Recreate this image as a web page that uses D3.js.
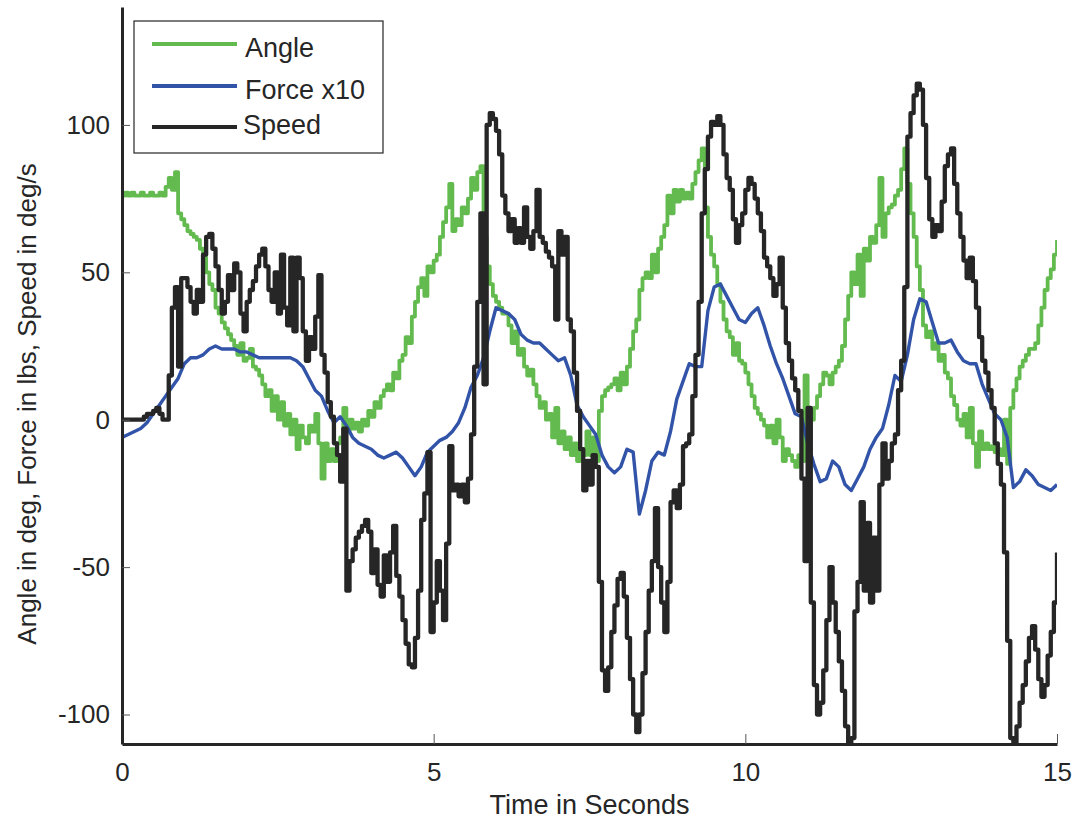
<!DOCTYPE html>
<html>
<head>
<meta charset="utf-8">
<script src="https://cdn.jsdelivr.net/npm/d3@7"></script>
<style>
  body { margin: 0; background: #fff; }
  svg { display: block; font-family: "Liberation Sans", Arial, Helvetica, sans-serif; }
</style>
</head>
<body>
<div id="chart"></div>
<script>
// sampling steps (seconds) of each recorded series
const angleStep = 0.05;
const speedStep = 0.05;
const forceStep = 0.1;

// Angle in deg (one row = 1 s)
const angle = [
  76, 77, 76, 77, 76, 76, 77, 76, 76, 77, 76, 76, 77, 76, 79, 82, 78, 84, 70, 68,
  66, 64, 63, 62, 61, 58, 55, 50, 46, 44, 38, 36, 33, 31, 29, 27, 25, 22, 26, 20,
  21, 24, 18, 17, 15, 12, 8, 10, 3, 8, 0, 6, -2, 2, -5, 0, -10, -2, -6, -8,
  -2, -4, 2, -8, -20, -8, -14, -10, -14, -8, -6, 4, -4, 0, -3, -1, -4, 0, -2, 3,
  1, 6, 4, 8, 10, 12, 10, 16, 14, 20, 22, 28, 26, 35, 40, 45, 48, 42, 52, 50,
  54, 56, 62, 67, 72, 80, 64, 68, 66, 72, 70, 75, 82, 78, 84, 86, 62, 52, 46, 42,
  40, 38, 36, 36, 32, 26, 30, 22, 24, 18, 15, 17, 12, 8, 4, 6, 0, 2, -6, 4,
  -8, -4, -10, -6, -12, -8, -14, -10, -12, -4, -12, -6, -14, 3, 8, 10, 11, 12, 14, 10,
  16, 12, 18, 24, 30, 34, 44, 48, 50, 48, 56, 50, 58, 62, 66, 76, 70, 78, 74, 78,
  75, 77, 75, 80, 84, 88, 92, 72, 62, 56, 52, 46, 40, 34, 30, 28, 22, 26, 20, 19,
  16, 12, 8, 4, 2, 0, -2, -6, -2, -8, 0, -6, -14, -10, -12, -14, -16, -12, -14, 15,
  -13, 0, 4, 8, 12, 16, 15, 12, 16, 18, 20, 25, 34, 42, 50, 46, 56, 42, 58, 54,
  62, 60, 66, 82, 62, 70, 72, 73, 76, 78, 85, 92, 80, 70, 62, 52, 44, 32, 28, 30,
  24, 26, 20, 22, 16, 14, 8, 5, 0, -2, 2, -6, 4, -8, -16, -4, -10, -8, -10, -9,
  -11, -10, -12, 0, -15, 4, 10, 14, 18, 20, 22, 24, 24, 26, 32, 38, 44, 48, 51, 56,
  61
];

// Force in lbs x10 (one row = 1 s)
const force = [
  -6, -5, -4, -3, -1, 2, 5, 8, 11, 14,
  19, 21, 21, 22, 24, 25, 24, 24, 24, 23,
  23, 22, 21, 21, 21, 21, 21, 21, 20, 18,
  14, 10, 8, 3, -1, 1, -2, -6, -8, -9,
  -10, -12, -13, -12, -11, -13, -16, -19, -16, -11,
  -9, -7, -6, -4, -1, 4, 11, 15, 21, 30,
  38, 37, 36, 34, 29, 27, 26, 26, 24, 22,
  20, 21, 15, 5, 1, -2, -5, -12, -16, -18,
  -16, -10, -11, -32, -24, -14, -11, -12, -4, 7,
  13, 19, 18, 18, 37, 45, 46, 42, 38, 34,
  33, 36, 38, 32, 25, 19, 14, 8, 2, 1,
  -8, -15, -21, -20, -14, -16, -22, -24, -20, -16,
  -10, -6, -3, 5, 15, 13, 22, 34, 41, 40,
  33, 26, 26, 27, 23, 20, 19, 19, 12, 7,
  2, 0, -6, -23, -21, -17, -19, -22, -23, -24,
  -22
];

// Speed in deg/s (one row = 1 s)
const speed = [
  0, 0, 0, 0, 0, 0, 0, 1, 2, 2, 3, 4, 2, 0, 0, 15, 38, 45, 18, 48,
  48, 45, 40, 36, 44, 40, 56, 62, 63, 58, 52, 44, 36, 40, 49, 44, 53, 50, 36, 30,
  40, 44, 47, 52, 56, 58, 52, 44, 40, 50, 36, 56, 38, 32, 55, 30, 55, 48, 30, 20,
  28, 24, 35, 49, 22, 16, 6, 1, -8, -12, -21, -3, -58, -48, -44, -40, -38, -36, -34, -38,
  -52, -44, -56, -60, -46, -55, -45, -36, -53, -60, -68, -76, -83, -84, -74, -58, -34, -25, -11, -72,
  -62, -48, -58, -68, -42, -9, -24, -22, -26, -22, -28, -20, -5, 18, 40, 70, 12, 100, 104, 102,
  98, 90, 76, 70, 64, 68, 60, 65, 60, 72, 62, 58, 64, 78, 62, 60, 57, 55, 52, 34,
  64, 56, 62, 34, 30, 16, 3, -10, -24, -14, -22, -12, -16, -55, -85, -92, -84, -72, -63, -54,
  -52, -60, -74, -88, -100, -106, -100, -86, -72, -58, -48, -30, -50, -62, -72, -55, -28, -24, -30, -22,
  -9, -8, -5, 8, 22, 40, 70, 85, 96, 101, 100, 103, 100, 90, 82, 78, 68, 60, 66, 70,
  78, 82, 80, 75, 70, 64, 55, 52, 48, 42, 46, 55, 38, 26, 20, 14, 10, 3, -20, -48,
  4, -62, -90, -100, -96, -85, -68, -50, -62, -72, -82, -92, -104, -110, -108, -65, -55, -28, -58, -35,
  -62, -40, -58, -22, -8, -20, -14, -8, -5, 10, 20, 45, 96, 104, 110, 114, 112, 100, 82, 68,
  62, 66, 64, 74, 86, 90, 92, 80, 70, 62, 54, 48, 55, 47, 38, 28, 20, 16, 10, 4,
  -8, -15, -22, -45, -75, -108, -110, -104, -96, -90, -82, -74, -70, -78, -88, -94, -90, -80, -72, -62,
  -45
];

const xTicks = [0, 5, 10, 15];
const yTicks = [-100, -50, 0, 50, 100];
const seriesNames = ["Angle", "Force x10", "Speed"];
const seriesColors = ["#63bb4f", "#3153a8", "#262626"];
const seriesWidths = [3.8, 3.4, 4.3];

const W = 1084, H = 820;
const margin = { top: 7, right: 27, bottom: 76, left: 122 };
const ink = "#262626";

const svg = d3.select("#chart").append("svg")
  .attr("width", W)
  .attr("height", H);

const x = d3.scaleLinear().domain([0, 15]).range([margin.left, W - margin.right]);
const y = d3.scaleLinear().domain([-110, 140]).range([H - margin.bottom, margin.top]);

svg.append("clipPath").attr("id", "plot-clip")
  .append("rect")
  .attr("x", margin.left)
  .attr("y", margin.top)
  .attr("width", W - margin.left - margin.right)
  .attr("height", H - margin.top - margin.bottom);

// series -> points
function toPoints(values, step) {
  return values.map((v, i) => [i * step, v]);
}
const series = [
  toPoints(angle, angleStep),
  toPoints(force, forceStep),
  toPoints(speed, speedStep)
];
// the recorded signals are quantised, so angle and speed are drawn as steps
const curves = [d3.curveStepAfter, d3.curveLinear, d3.curveStepAfter];

const plot = svg.append("g").attr("clip-path", "url(#plot-clip)");
series.forEach((pts, i) => {
  const line = d3.line()
    .x(d => x(d[0]))
    .y(d => y(d[1]))
    .curve(curves[i]);
  plot.append("path")
    .datum(pts)
    .attr("fill", "none")
    .attr("stroke", seriesColors[i])
    .attr("stroke-width", seriesWidths[i])
    .attr("stroke-linejoin", "round")
    .attr("d", line);
});

// axes (ticks point inward, like the original)
const xAxis = svg.append("g")
  .attr("transform", `translate(0,${H - margin.bottom})`)
  .call(d3.axisBottom(x).tickValues(xTicks).tickSizeInner(-10).tickSizeOuter(0).tickPadding(19)
    .tickFormat(d => String(d)));

const yAxis = svg.append("g")
  .attr("transform", `translate(${margin.left},0)`)
  .call(d3.axisLeft(y).tickValues(yTicks).tickSizeInner(-8).tickSizeOuter(0).tickPadding(12)
    .tickFormat(d => String(d)));

[xAxis, yAxis].forEach(g => {
  g.select(".domain").attr("stroke", ink).attr("stroke-width", 3);
  g.selectAll(".tick line").attr("stroke", "#555").attr("stroke-width", 1);
  g.selectAll(".tick text")
    .attr("fill", ink)
    .style("font-size", "26px")
    .style("font-family", "\"Liberation Sans\", Arial, Helvetica, sans-serif");
});

// axis labels
svg.append("text")
  .attr("x", (margin.left + W - margin.right) / 2)
  .attr("y", 814)
  .attr("text-anchor", "middle")
  .attr("fill", ink)
  .style("font-size", "27px")
  .text("Time in Seconds");

svg.append("text")
  .attr("transform", "translate(36,404) rotate(-90)")
  .attr("text-anchor", "middle")
  .attr("fill", ink)
  .style("font-size", "26px")
  .text("Angle in deg, Force in lbs, Speed in deg/s");

// legend
const legend = svg.append("g");
legend.append("rect")
  .attr("x", 134)
  .attr("y", 21)
  .attr("width", 249)
  .attr("height", 132)
  .attr("fill", "#fff")
  .attr("stroke", ink)
  .attr("stroke-width", 1.2);

const legendLineY = [44, 86, 127];
const legendTextY = [57, 99, 134];
const legendTextX = [245, 245, 243];
seriesNames.forEach((name, i) => {
  legend.append("line")
    .attr("x1", 152).attr("x2", 237)
    .attr("y1", legendLineY[i]).attr("y2", legendLineY[i])
    .attr("stroke", seriesColors[i])
    .attr("stroke-width", 4);
  legend.append("text")
    .attr("x", legendTextX[i])
    .attr("y", legendTextY[i])
    .attr("fill", ink)
    .style("font-size", "27px")
    .text(name);
});
</script>
</body>
</html>
